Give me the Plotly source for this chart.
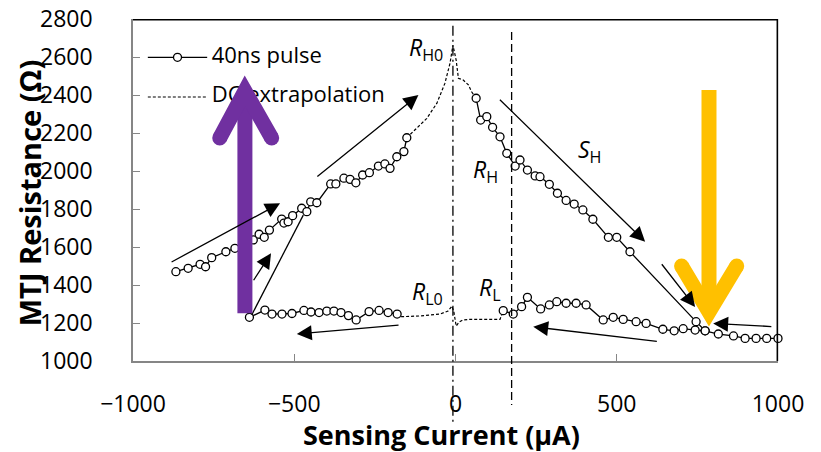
import plotly.graph_objects as go

# ---------------- data (current in µA, resistance in Ω) ----------------
# 40 ns pulse – high-resistance branch, negative current
hi_left_current = [-867, -829, -792, -775, -756, -712, -684, -627, -609, -593, -577, -539, -532,
                   -519, -505, -477, -461, -449, -430, -387, -371, -346, -327, -309, -288, -267,
                   -239, -219, -203, -182, -160, -151]
hi_left_res = [1470, 1488, 1509, 1496, 1544, 1575, 1593, 1637, 1667, 1651, 1689, 1747, 1726,
               1733, 1765, 1804, 1786, 1838, 1833, 1932, 1932, 1962, 1956, 1938, 1979, 1991,
               2026, 2037, 2014, 2075, 2102, 2175]
# 40 ns pulse – low-resistance branch, negative current
lo_left_current = [-639, -591, -569, -538, -507, -470, -448, -423, -399, -377, -355, -332, -308,
                   -268, -237, -209, -181]
lo_left_res = [1230, 1268, 1247, 1247, 1250, 1266, 1258, 1255, 1263, 1263, 1255, 1239, 1216,
               1260, 1266, 1255, 1247]
# 40 ns pulse – high-resistance branch, positive current
hi_right_current = [64, 78, 97, 115, 138, 159, 185, 200, 223, 247, 262, 291, 316, 343, 368, 395,
                    426, 474, 500, 541, 746, 774]
hi_right_res = [2383, 2268, 2286, 2230, 2180, 2093, 2026, 2058, 2005, 1974, 1970, 1930, 1883,
                1845, 1826, 1795, 1746, 1651, 1651, 1575, 1207, 1159]
# 40 ns pulse – low-resistance branch, positive current
lo_right_current = [148, 179, 205, 223, 264, 291, 314, 343, 374, 405, 458, 489, 520, 560, 591,
                    643, 678, 706, 743, 774, 815, 862, 898, 932, 965, 1000]
lo_right_res = [1265, 1247, 1286, 1335, 1274, 1295, 1312, 1304, 1304, 1295, 1216, 1230, 1219,
                1207, 1198, 1167, 1159, 1170, 1163, 1159, 1142, 1132, 1119, 1119, 1119, 1119]
# DC extrapolation
dc_hi_current = [-151, -126, -89, -58, -33, -17, -8, 2, 9, 24, 40, 50, 64]
dc_hi_res = [2175, 2216, 2277, 2356, 2461, 2567, 2663, 2584, 2488, 2479, 2453, 2417, 2383]
dc_lo_current = [-181, -172, -110, -48, -23, -11, -5, 2, 11, 23, 45, 138, 148]
dc_lo_res = [1247, 1233, 1237, 1247, 1263, 1289, 1258, 1184, 1205, 1216, 1219, 1219, 1265]

x_ticks = [-1000, -500, 0, 500, 1000]
y_ticks = [1000, 1200, 1400, 1600, 1800, 2000, 2200, 2400, 2600, 2800]
legend_names = ["40ns pulse", "DC extrapolation"]
I_R = 174          # read current marker
ZERO = -8          # dash-dot marker at zero current

# ---------------- styling ----------------
X_RANGE = [-1000, 1000]
Y_RANGE = [1000, 2800]
FONT = "Open Sans, Noto Sans, sans-serif"
AXIS_GRAY = "#868686"
PURPLE = "#7030A0"
GOLD = "#FFC000"

pulse_line = dict(color="black", width=1.3)
pulse_marker = dict(symbol="circle", size=8, color="white", line=dict(color="black", width=1.3))
dc_line = dict(color="black", width=1.2, dash="3px,2px")

fig = go.Figure()

for xs, ys in [(dc_hi_current, dc_hi_res), (dc_lo_current, dc_lo_res)]:
    fig.add_trace(go.Scatter(x=xs, y=ys, mode="lines", line=dc_line, showlegend=False,
                             hoverinfo="skip", cliponaxis=False))

for xs, ys in [(hi_left_current, hi_left_res), (lo_left_current, lo_left_res),
               (hi_right_current, hi_right_res), (lo_right_current, lo_right_res)]:
    fig.add_trace(go.Scatter(x=xs, y=ys, mode="lines+markers", line=pulse_line,
                             marker=pulse_marker, showlegend=False, cliponaxis=False,
                             hovertemplate="%{x} µA, %{y} Ω<extra></extra>"))


def frac_x(f):
    return X_RANGE[0] + f * (X_RANGE[1] - X_RANGE[0])


def frac_y(f):
    return Y_RANGE[0] + f * (Y_RANGE[1] - Y_RANGE[0])


# manual legend (text drawn as a text trace so the big arrow can sit on top)
leg_rows = [0.888, 0.772]
leg_line_x = [0.023, 0.115]
leg_text_x = 0.122
fig.add_trace(go.Scatter(x=[frac_x(leg_text_x)] * 2, y=[frac_y(r) for r in leg_rows],
                         mode="text", text=legend_names, textposition="middle right",
                         textfont=dict(family=FONT, size=22, color="black"),
                         showlegend=False, hoverinfo="skip", cliponaxis=False))

shapes = []
# frame: black top and right borders (drawn slightly inside the plot edge)
shapes.append(dict(type="path", xref="paper", yref="paper", layer="above",
                   path="M 0,0.998 L 0.999,0.998 L 0.999,0",
                   line=dict(color="black", width=1.6)))
# zero-current dash-dot and I_R dashed markers
shapes.append(dict(type="line", xref="x", yref="paper", x0=ZERO, x1=ZERO, y0=0.98, y1=-0.178,
                   line=dict(color="black", width=1.3, dash="10px,4px,2px,4px")))
shapes.append(dict(type="line", xref="x", yref="paper", x0=I_R, x1=I_R, y0=0.962, y1=-0.129,
                   line=dict(color="black", width=1.3, dash="8px,4px")))
# legend samples
shapes.append(dict(type="line", xref="paper", yref="paper", x0=leg_line_x[0], x1=leg_line_x[1],
                   y0=leg_rows[0], y1=leg_rows[0], line=dict(color="black", width=1.3)))
shapes.append(dict(type="line", xref="paper", yref="paper", x0=leg_line_x[0], x1=leg_line_x[1],
                   y0=leg_rows[1], y1=leg_rows[1], line=dict(color="black", width=1.2, dash="3px,2px")))
shapes.append(dict(type="circle", xref="paper", yref="paper", xsizemode="pixel", ysizemode="pixel",
                   xanchor=(leg_line_x[0] + leg_line_x[1]) / 2, yanchor=leg_rows[0],
                   x0=-4, x1=4, y0=-4, y1=4, fillcolor="white",
                   line=dict(color="black", width=1.3)))
# switching line from low to high branch
shapes.append(dict(type="line", xref="x", yref="y", x0=-632, y0=1242, x1=-472, y1=1768,
                   line=dict(color="black", width=1.3)))


def big_arrow(xc, y_tail, y_vertex, arm_dx_left, arm_dx_right, y_arm, color):
    out = []
    out.append(dict(type="path", xref="x", yref="y", layer="above",
                    path=f"M {xc},{y_tail} L {xc},{y_vertex}",
                    line=dict(color=color, width=15)))
    out.append(dict(type="path", xref="x", yref="y", layer="above",
                    path=f"M {xc + arm_dx_left},{y_arm} L {xc},{y_vertex} L {xc + arm_dx_right},{y_arm}",
                    line=dict(color=color, width=15)))
    for dx in (arm_dx_left, arm_dx_right):
        out.append(dict(type="circle", xref="x", yref="y", layer="above",
                        xsizemode="pixel", ysizemode="pixel", xanchor=xc + dx, yanchor=y_arm,
                        x0=-7.5, x1=7.5, y0=-7.5, y1=7.5, fillcolor=color,
                        line=dict(width=0)))
    return out


shapes += big_arrow(-653, 1251, 2421, -78, 83, 2174, PURPLE)
shapes += big_arrow(786, 2426, 1258, -85, 86, 1500, GOLD)

annotations = []
# black indicator arrows: (tail_x, tail_y, head_x, head_y)
arrows = [(-885, 1517, -544, 1830), (-629, 1417, -572, 1567), (-433, 1965, -115, 2400),
          (-172, 1189, -492, 1142), (133, 2383, 588, 1628), (636, 1517, 743, 1284),
          (984, 1181, 799, 1198), (629, 1102, 241, 1180)]
for tx, ty, hx, hy in arrows:
    annotations.append(dict(x=hx, y=hy, ax=tx, ay=ty, xref="x", yref="y", axref="x", ayref="y",
                            text="", showarrow=True, arrowhead=2, arrowsize=2.3, arrowwidth=1.3,
                            arrowcolor="black", standoff=0))

label_font = dict(family=FONT, size=23, color="black")
labels = [("<i>R</i><sub>H0</sub>", -92, 2647), ("<i>R</i><sub>H</sub>", 92, 2005),
          ("<i>S</i><sub>H</sub>", 417, 2110), ("<i>R</i><sub>L0</sub>", -88, 1363),
          ("<i>R</i><sub>L</sub>", 107, 1379), ("<i>I</i><sub>R</sub>", 265, 795)]
for txt, lx, ly in labels:
    annotations.append(dict(x=lx, y=ly, xref="x", yref="y", text=txt, showarrow=False,
                            font=label_font, xanchor="center", yanchor="middle"))

# axis titles
annotations.append(dict(x=0.479, y=-0.2135, xref="paper", yref="paper",
                        text="<b>Sensing Current (μA)</b>", showarrow=False,
                        font=dict(family=FONT, size=27, color="black"),
                        xanchor="center", yanchor="middle"))
annotations.append(dict(x=-0.16, y=0.49, xref="paper", yref="paper",
                        text="<b>MTJ Resistance (Ω)</b>", showarrow=False, textangle=-90,
                        font=dict(family=FONT, size=29, color="black"),
                        xanchor="center", yanchor="middle"))

axis_common = dict(showgrid=False, zeroline=False, showline=True, linecolor=AXIS_GRAY,
                   linewidth=1.5, automargin=False, ticks="inside", ticklen=7,
                   tickcolor=AXIS_GRAY, tickwidth=1.3, ticklabeloverflow="allow",
                   tickfont=dict(family=FONT, size=23, color="black"))

# The page body adds an 8 px offset, so the figure is 8 px smaller than the window.
fig.update_layout(
    width=813, height=444,
    margin=dict(l=125, r=43, t=11, b=91, autoexpand=False),
    paper_bgcolor="white", plot_bgcolor="white",
    font=dict(family=FONT, color="black"),
    showlegend=False,
    shapes=shapes, annotations=annotations,
    xaxis=dict(range=X_RANGE, tickvals=x_ticks, ticklabelstandoff=22, **axis_common),
    yaxis=dict(range=Y_RANGE, tickvals=y_ticks, ticklabelstandoff=34, **axis_common),
)

fig.write_html("out.html")
